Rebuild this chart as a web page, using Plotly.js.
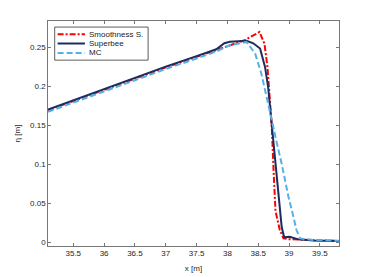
<!DOCTYPE html>
<html>
<head>
<meta charset="utf-8">
<script src="https://cdn.plot.ly/plotly-3.0.1.min.js"></script>
<style>html,body{margin:0;padding:0;background:#fff;}#chart{width:374px;height:277px;}</style>
</head>
<body>
<div id="chart"></div>
<script>
// Smoothness S.
const xSmooth = [35.09, 35.5, 36.0, 36.5, 37.0, 37.5, 37.82, 37.99, 38.28, 38.52, 38.60, 38.65, 38.68, 38.72, 38.75, 38.78, 38.85, 38.91, 39.0, 39.4, 39.81];
const ySmooth = [0.1695, 0.1815, 0.196, 0.2105, 0.2245, 0.238, 0.2468, 0.252, 0.2594, 0.270, 0.2552, 0.225, 0.191, 0.148, 0.09, 0.04, 0.0158, 0.005, 0.004, 0.0025, 0.0017];
// Superbee
const xSuper = [35.09, 35.5, 36.0, 36.5, 37.0, 37.5, 37.82, 37.95, 38.04, 38.31, 38.42, 38.53, 38.61, 38.66, 38.73, 38.78, 38.83, 38.88, 38.92, 39.01, 39.15, 39.4, 39.81];
const ySuper = [0.1705, 0.1825, 0.197, 0.2115, 0.2255, 0.239, 0.2478, 0.2555, 0.2575, 0.2588, 0.2555, 0.2487, 0.2251, 0.1995, 0.14, 0.095, 0.055, 0.02, 0.0064, 0.0072, 0.0038, 0.0025, 0.0017];
// MC
const xMC = [35.09, 35.5, 36.0, 36.5, 37.0, 37.5, 37.82, 38.04, 38.31, 38.45, 38.55, 38.66, 38.74, 38.80, 38.88, 38.99, 39.07, 39.12, 39.18, 39.4, 39.81];
const yMC = [0.1675, 0.1795, 0.194, 0.2085, 0.2225, 0.236, 0.245, 0.253, 0.2572, 0.2423, 0.2167, 0.178, 0.148, 0.128, 0.101, 0.0585, 0.033, 0.0158, 0.005, 0.003, 0.002];

const names = ['Smoothness S.', 'Superbee', 'MC'];
const xTicks = [35.5, 36, 36.5, 37, 37.5, 38, 38.5, 39, 39.5];
const yTicks = [0, 0.05, 0.1, 0.15, 0.2, 0.25];
const yTickText = ['0', '0.05', '0.1', '0.15', '0.2', '0.25'];

const cRed = '#ff0000', cNavy = '#1c2c5e', cBlue = '#55b0e6';
const FONT = 'Liberation Sans, Arial, Helvetica, sans-serif';

const traces = [
  {x: xSmooth, y: ySmooth, name: names[0], mode: 'lines', line: {color: cRed, width: 2, dash: '6px,2px,2px,2px'}},
  {x: xSuper, y: ySuper, name: names[1], mode: 'lines', line: {color: cNavy, width: 2}},
  {x: xMC, y: yMC, name: names[2], mode: 'lines', line: {color: cBlue, width: 2, dash: '6px,3px'}}
];

// manual legend (paper coords)
const legRows = [0.941, 0.900, 0.858];
const legendStyles = [
  {color: cRed, width: 2, dash: '6px,2px,2px,2px'},
  {color: cNavy, width: 2},
  {color: cBlue, width: 2, dash: '6px,3px'}
];
const shapes = [{type: 'rect', xref: 'paper', yref: 'paper', x0: 0.023, x1: 0.344, y0: 0.826, y1: 0.973,
  line: {color: '#333', width: 0.8}, fillcolor: 'white', layer: 'above'}];
const annotations = [];
legRows.forEach((yy, i) => {
  shapes.push({type: 'line', xref: 'paper', yref: 'paper', x0: 0.033, x1: 0.127, y0: yy, y1: yy, line: legendStyles[i], layer: 'above'});
  annotations.push({xref: 'paper', yref: 'paper', x: 0.133, y: yy, xanchor: 'left', yanchor: 'middle',
    text: names[i], showarrow: false, font: {family: FONT, size: 8, color: '#222'}});
});

const axisCommon = {
  showline: true, linecolor: '#555', linewidth: 0.8, mirror: 'ticks',
  ticks: 'inside', ticklen: 3, tickcolor: '#555', tickwidth: 0.8,
  showgrid: false, zeroline: false,
  tickfont: {family: FONT, size: 8, color: '#262626'}
};

const layout = {
  width: 374, height: 277, autosize: false,
  margin: {l: 48, r: 35, t: 21, b: 31, pad: 0},
  paper_bgcolor: 'white', plot_bgcolor: 'white',
  showlegend: false,
  font: {family: FONT, size: 8, color: '#262626'},
  xaxis: Object.assign({}, axisCommon, {
    range: [35.09, 39.81], tickvals: xTicks, ticktext: xTicks.map(String),
    title: {text: 'x [m]', standoff: 7, font: {family: FONT, size: 8, color: '#262626'}}
  }),
  yaxis: Object.assign({}, axisCommon, {
    range: [-0.0047, 0.2841], tickvals: yTicks, ticktext: yTickText,
    title: {text: 'η [m]', standoff: 8, font: {family: FONT, size: 8, color: '#262626'}}
  }),
  shapes: shapes,
  annotations: annotations
};

Plotly.newPlot('chart', traces, layout, {staticPlot: true, displayModeBar: false});
</script>
</body>
</html>
